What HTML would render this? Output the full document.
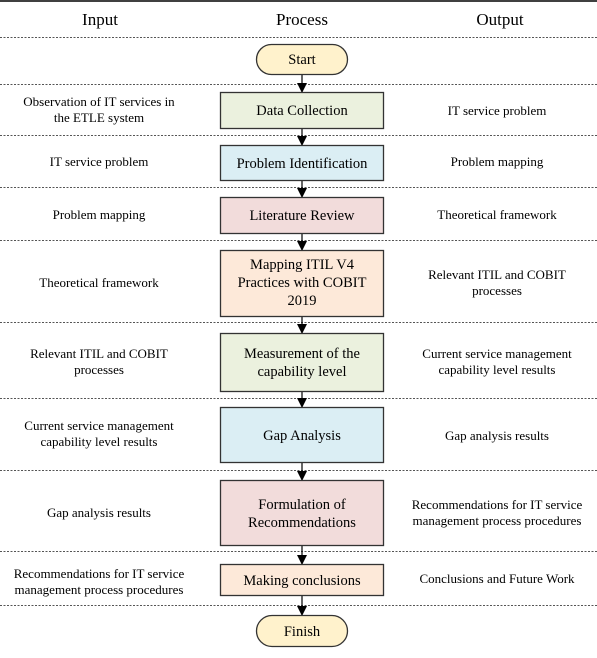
<!DOCTYPE html>
<html><head><meta charset="utf-8"><style>
html,body{margin:0;padding:0;background:#fff;}
svg{display:block;}
text{font-family:"Liberation Serif",serif;fill:#000;}
.h{font-size:17px;}
.t{font-size:13px;}
.b{font-size:14.5px;}
.d{stroke:#555;stroke-width:1;stroke-dasharray:2,1.5;}
.box{stroke:#333;stroke-width:1.3;}
</style></head><body>
<svg width="597" height="658" viewBox="0 0 597 658" xmlns="http://www.w3.org/2000/svg">
<defs><marker id="a" markerWidth="10" markerHeight="10" refX="9" refY="5" orient="auto" markerUnits="userSpaceOnUse"><path d="M0,0 L10,5 L0,10 z" fill="#000"/></marker></defs>
<line x1="0" y1="1" x2="597" y2="1" stroke="#000" stroke-width="1.5"/>
<text class="h" x="100" y="25" text-anchor="middle">Input</text>
<text class="h" x="302" y="25" text-anchor="middle">Process</text>
<text class="h" x="500" y="25" text-anchor="middle">Output</text>
<g class="d">
<line x1="0" y1="37.5" x2="597" y2="37.5"/><line x1="0" y1="84.5" x2="597" y2="84.5"/>
<line x1="0" y1="135.5" x2="597" y2="135.5"/><line x1="0" y1="187.5" x2="597" y2="187.5"/>
<line x1="0" y1="240.5" x2="597" y2="240.5"/><line x1="0" y1="322.5" x2="597" y2="322.5"/>
<line x1="0" y1="398.5" x2="597" y2="398.5"/><line x1="0" y1="470.5" x2="597" y2="470.5"/>
<line x1="0" y1="551.5" x2="597" y2="551.5"/><line x1="0" y1="605.5" x2="597" y2="605.5"/>
</g>
<g stroke="#000" stroke-width="1.2">
<line x1="302" y1="74" x2="302" y2="92" marker-end="url(#a)"/>
<line x1="302" y1="128" x2="302" y2="145" marker-end="url(#a)"/>
<line x1="302" y1="180" x2="302" y2="197" marker-end="url(#a)"/>
<line x1="302" y1="233" x2="302" y2="250" marker-end="url(#a)"/>
<line x1="302" y1="316" x2="302" y2="333" marker-end="url(#a)"/>
<line x1="302" y1="391" x2="302" y2="407" marker-end="url(#a)"/>
<line x1="302" y1="462" x2="302" y2="480" marker-end="url(#a)"/>
<line x1="302" y1="545" x2="302" y2="564" marker-end="url(#a)"/>
<line x1="302" y1="595" x2="302" y2="615" marker-end="url(#a)"/>
</g>
<rect class="box" x="256.5" y="44.5" width="91" height="30" rx="15" fill="#fff2cc"/>
<text class="b" x="302" y="64" text-anchor="middle">Start</text>
<rect class="box" x="220.5" y="92.5" width="163" height="36" fill="#ebf1de"/>
<text class="b" x="302" y="115" text-anchor="middle">Data Collection</text>
<rect class="box" x="220.5" y="145.5" width="163" height="35" fill="#dbeef4"/>
<text class="b" x="302" y="168" text-anchor="middle">Problem Identification</text>
<rect class="box" x="220.5" y="197.5" width="163" height="36" fill="#f2dcdb"/>
<text class="b" x="302" y="220" text-anchor="middle">Literature Review</text>
<rect class="box" x="220.5" y="250.5" width="163" height="66" fill="#fde9d9"/>
<text class="b" x="302" y="269" text-anchor="middle">Mapping ITIL V4</text>
<text class="b" x="302" y="287" text-anchor="middle">Practices with COBIT</text>
<text class="b" x="302" y="305" text-anchor="middle">2019</text>
<rect class="box" x="220.5" y="333.5" width="163" height="58" fill="#ebf1de"/>
<text class="b" x="302" y="358" text-anchor="middle">Measurement of the</text>
<text class="b" x="302" y="376" text-anchor="middle">capability level</text>
<rect class="box" x="220.5" y="407.5" width="163" height="55" fill="#dbeef4"/>
<text class="b" x="302" y="440" text-anchor="middle">Gap Analysis</text>
<rect class="box" x="220.5" y="480.5" width="163" height="65" fill="#f2dcdb"/>
<text class="b" x="302" y="509" text-anchor="middle">Formulation of</text>
<text class="b" x="302" y="527" text-anchor="middle">Recommendations</text>
<rect class="box" x="220.5" y="564.5" width="163" height="31" fill="#fde9d9"/>
<text class="b" x="302" y="585" text-anchor="middle">Making conclusions</text>
<rect class="box" x="256.5" y="615.5" width="91" height="31" rx="15.5" fill="#fff2cc"/>
<text class="b" x="302" y="636" text-anchor="middle">Finish</text>
<g class="t" text-anchor="middle">
<text x="99" y="106">Observation of IT services in</text>
<text x="99" y="122">the ETLE system</text>
<text x="99" y="166">IT service problem</text>
<text x="99" y="219">Problem mapping</text>
<text x="99" y="287">Theoretical framework</text>
<text x="99" y="358">Relevant ITIL and COBIT</text>
<text x="99" y="374">processes</text>
<text x="99" y="430">Current service management</text>
<text x="99" y="446">capability level results</text>
<text x="99" y="517">Gap analysis results</text>
<text x="99" y="578">Recommendations for IT service</text>
<text x="99" y="594">management process procedures</text>
<text x="497" y="115">IT service problem</text>
<text x="497" y="166">Problem mapping</text>
<text x="497" y="219">Theoretical framework</text>
<text x="497" y="279">Relevant ITIL and COBIT</text>
<text x="497" y="295">processes</text>
<text x="497" y="358">Current service management</text>
<text x="497" y="374">capability level results</text>
<text x="497" y="440">Gap analysis results</text>
<text x="497" y="509">Recommendations for IT service</text>
<text x="497" y="525">management process procedures</text>
<text x="497" y="583">Conclusions and Future Work</text>
</g>
</svg>
</body></html>
